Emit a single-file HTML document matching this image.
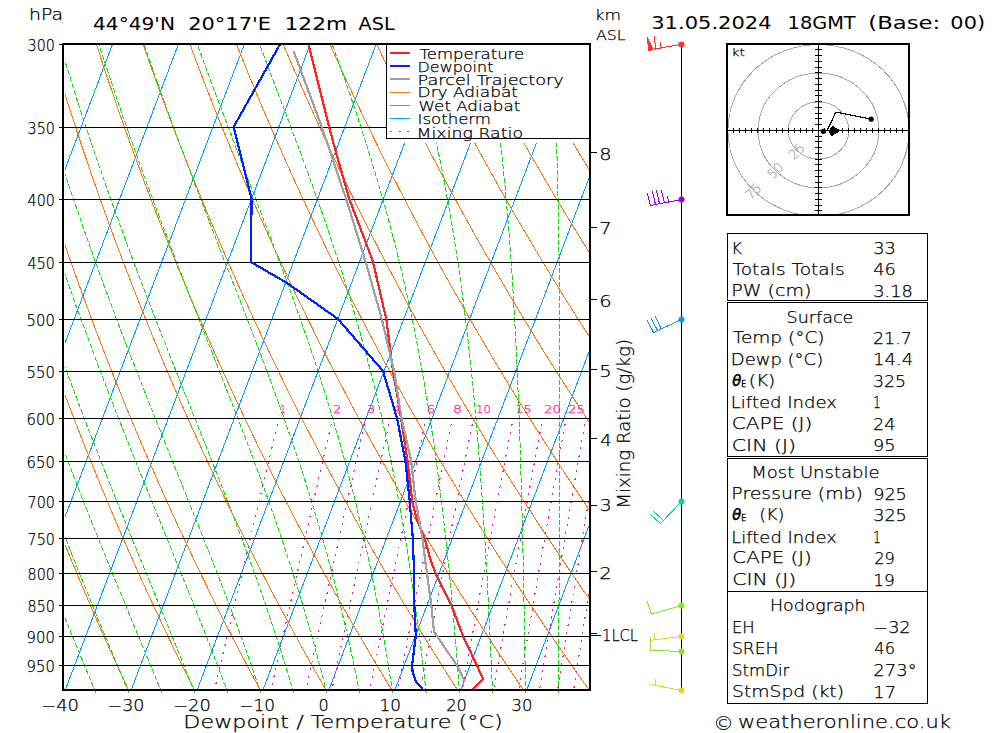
<!DOCTYPE html>
<html><head><meta charset="utf-8"><style>
html,body{margin:0;padding:0;background:#fff;}
body{width:1000px;height:733px;overflow:hidden;position:relative;}
svg{position:absolute;left:0;top:0;}
text{font-family:"DejaVu Sans","Liberation Sans",sans-serif;font-weight:200;fill:#000;stroke:#000;stroke-width:0.25px;}
.ax{font-size:15px;}
.tt{font-size:18px;font-weight:400;stroke-width:0;}
.xl{font-size:17px;}
.tb{font-size:15px;}
.cr{font-size:17px;}
.th{font-style:italic;font-weight:400;stroke-width:0.5px;}
.hl{font-size:13px;fill:#a8a8a8;stroke:#a8a8a8;}
.mr{font-size:11px;fill:#ff1493;stroke:#ff1493;}
.lg{font-size:14px;}
.kt{font-size:11px;}
</style></head><body>
<svg width="1000" height="733" viewBox="0 0 1000 733" shape-rendering="crispEdges">
<defs><clipPath id="cp"><rect x="65" y="45" width="524" height="644"/></clipPath><clipPath id="cpw"><rect x="65" y="45" width="524" height="649"/></clipPath><clipPath id="ch"><rect x="728" y="45" width="180" height="169"/></clipPath></defs>
<g clip-path="url(#cp)"><path d="M-593.61 689.5L-348.77 44M-527.7 689.5L-282.86 44M-461.79 689.5L-216.95 44M-395.88 689.5L-151.04 44M-329.97 689.5L-85.13 44M-264.06 689.5L-19.22 44M-198.15 689.5L46.69 44M-132.24 689.5L112.6 44M-66.33 689.5L178.51 44M-0.42 689.5L244.42 44M65.49 689.5L310.33 44M131.4 689.5L376.24 44M197.31 689.5L442.15 44M263.22 689.5L508.06 44M329.13 689.5L573.97 44M395.04 689.5L639.88 44M460.95 689.5L705.79 44M526.86 689.5L771.7 44M592.77 689.5L837.61 44" stroke="#0a9bff" stroke-width="1" fill="none"/></g>
<g clip-path="url(#cp)"><path d="M64.12 693.1 L61.77 687.68 L59.4 682.21 L57.03 676.67 L54.64 671.09 L52.24 665.44 L49.83 659.73 L47.4 653.97 L44.97 648.14 L42.52 642.24 L40.06 636.29 L37.59 630.26 L35.1 624.17 L32.61 618.01 L30.1 611.77 L27.57 605.47 L25.04 599.08 L22.49 592.63 L19.92 586.09 L17.35 579.47 L14.76 572.78 L12.15 565.99 L9.53 559.12 L6.9 552.17 L4.25 545.12 L1.59 537.97 L-1.09 530.74 L-3.78 523.4 L-6.49 515.96 L-9.21 508.42 L-11.95 500.77 L-14.71 493.01 L-17.48 485.14 L-20.27 477.15 L-23.07 469.04 L-25.9 460.81 L-28.74 452.45 L-31.59 443.96 L-34.47 435.33 L-37.36 426.56 L-40.27 417.65 L-43.2 408.59 L-46.15 399.37 L-49.12 389.99 L-52.11 380.45 L-55.11 370.73 L-58.14 360.84 L-61.18 350.76 L-64.25 340.49 L-67.34 330.02 L-70.45 319.34 L-73.58 308.45 L-76.73 297.33 L-79.9 285.97 L-83.09 274.38 L-86.31 262.53 L-89.55 250.41 L-92.81 238.01 L-96.09 225.32 L-99.4 212.33 L-102.73 199.02 L-106.08 185.36 L-109.46 171.36 L-112.86 156.98 L-116.28 142.2 L-119.72 127.01 L-123.19 111.38 L-126.68 95.28 L-130.2 78.69 L-133.73 61.57 L-137.28 43.89M130.03 693.1 L127.49 687.68 L124.93 682.21 L122.36 676.67 L119.78 671.09 L117.19 665.44 L114.58 659.73 L111.96 653.97 L109.32 648.14 L106.67 642.24 L104.01 636.29 L101.34 630.26 L98.65 624.17 L95.94 618.01 L93.22 611.77 L90.49 605.47 L87.74 599.08 L84.98 592.63 L82.2 586.09 L79.4 579.47 L76.59 572.78 L73.77 565.99 L70.92 559.12 L68.06 552.17 L65.19 545.12 L62.29 537.97 L59.38 530.74 L56.46 523.4 L53.51 515.96 L50.55 508.42 L47.57 500.77 L44.57 493.01 L41.55 485.14 L38.51 477.15 L35.45 469.04 L32.37 460.81 L29.28 452.45 L26.16 443.96 L23.02 435.33 L19.86 426.56 L16.68 417.65 L13.48 408.59 L10.25 399.37 L7 389.99 L3.73 380.45 L0.44 370.73 L-2.88 360.84 L-6.22 350.76 L-9.58 340.49 L-12.97 330.02 L-16.39 319.34 L-19.83 308.45 L-23.3 297.33 L-26.79 285.97 L-30.31 274.38 L-33.86 262.53 L-37.43 250.41 L-41.03 238.01 L-44.67 225.32 L-48.33 212.33 L-52.01 199.02 L-55.73 185.36 L-59.48 171.36 L-63.26 156.98 L-67.07 142.2 L-70.91 127.01 L-74.78 111.38 L-78.68 95.28 L-82.62 78.69 L-86.58 61.57 L-90.57 43.89M195.94 693.1 L193.21 687.68 L190.46 682.21 L187.7 676.67 L184.93 671.09 L182.14 665.44 L179.33 659.73 L176.51 653.97 L173.68 648.14 L170.83 642.24 L167.97 636.29 L165.09 630.26 L162.19 624.17 L159.28 618.01 L156.35 611.77 L153.41 605.47 L150.44 599.08 L147.47 592.63 L144.47 586.09 L141.46 579.47 L138.43 572.78 L135.38 565.99 L132.31 559.12 L129.23 552.17 L126.12 545.12 L123 537.97 L119.86 530.74 L116.69 523.4 L113.51 515.96 L110.31 508.42 L107.08 500.77 L103.84 493.01 L100.57 485.14 L97.29 477.15 L93.98 469.04 L90.64 460.81 L87.29 452.45 L83.91 443.96 L80.51 435.33 L77.08 426.56 L73.63 417.65 L70.15 408.59 L66.65 399.37 L63.12 389.99 L59.57 380.45 L55.99 370.73 L52.38 360.84 L48.75 350.76 L45.08 340.49 L41.39 330.02 L37.67 319.34 L33.92 308.45 L30.13 297.33 L26.32 285.97 L22.47 274.38 L18.6 262.53 L14.69 250.41 L10.74 238.01 L6.76 225.32 L2.75 212.33 L-1.3 199.02 L-5.38 185.36 L-9.5 171.36 L-13.66 156.98 L-17.86 142.2 L-22.09 127.01 L-26.37 111.38 L-30.68 95.28 L-35.04 78.69 L-39.43 61.57 L-43.86 43.89M261.85 693.1 L258.93 687.68 L255.99 682.21 L253.04 676.67 L250.07 671.09 L247.09 665.44 L244.09 659.73 L241.07 653.97 L238.04 648.14 L234.99 642.24 L231.92 636.29 L228.84 630.26 L225.73 624.17 L222.62 618.01 L219.48 611.77 L216.32 605.47 L213.15 599.08 L209.96 592.63 L206.74 586.09 L203.51 579.47 L200.26 572.78 L196.99 565.99 L193.7 559.12 L190.39 552.17 L187.06 545.12 L183.7 537.97 L180.33 530.74 L176.93 523.4 L173.51 515.96 L170.07 508.42 L166.6 500.77 L163.11 493.01 L159.6 485.14 L156.06 477.15 L152.5 469.04 L148.91 460.81 L145.3 452.45 L141.66 443.96 L137.99 435.33 L134.3 426.56 L130.58 417.65 L126.83 408.59 L123.05 399.37 L119.25 389.99 L115.41 380.45 L111.54 370.73 L107.64 360.84 L103.71 350.76 L99.75 340.49 L95.76 330.02 L91.73 319.34 L87.66 308.45 L83.56 297.33 L79.43 285.97 L75.26 274.38 L71.05 262.53 L66.8 250.41 L62.52 238.01 L58.19 225.32 L53.82 212.33 L49.42 199.02 L44.97 185.36 L40.47 171.36 L35.93 156.98 L31.35 142.2 L26.72 127.01 L22.04 111.38 L17.32 95.28 L12.54 78.69 L7.72 61.57 L2.85 43.89M327.76 693.1 L324.65 687.68 L321.52 682.21 L318.38 676.67 L315.22 671.09 L312.04 665.44 L308.84 659.73 L305.63 653.97 L302.39 648.14 L299.14 642.24 L295.87 636.29 L292.59 630.26 L289.28 624.17 L285.95 618.01 L282.61 611.77 L279.24 605.47 L275.85 599.08 L272.45 592.63 L269.02 586.09 L265.57 579.47 L262.1 572.78 L258.6 565.99 L255.09 559.12 L251.55 552.17 L247.99 545.12 L244.41 537.97 L240.8 530.74 L237.17 523.4 L233.51 515.96 L229.83 508.42 L226.12 500.77 L222.39 493.01 L218.63 485.14 L214.84 477.15 L211.03 469.04 L207.18 460.81 L203.31 452.45 L199.41 443.96 L195.48 435.33 L191.52 426.56 L187.53 417.65 L183.51 408.59 L179.46 399.37 L175.37 389.99 L171.25 380.45 L167.09 370.73 L162.9 360.84 L158.68 350.76 L154.42 340.49 L150.12 330.02 L145.78 319.34 L141.41 308.45 L136.99 297.33 L132.54 285.97 L128.04 274.38 L123.5 262.53 L118.92 250.41 L114.29 238.01 L109.62 225.32 L104.9 212.33 L100.13 199.02 L95.32 185.36 L90.45 171.36 L85.53 156.98 L80.56 142.2 L75.54 127.01 L70.46 111.38 L65.32 95.28 L60.12 78.69 L54.87 61.57 L49.56 43.89M393.67 693.1 L390.37 687.68 L387.05 682.21 L383.72 676.67 L380.36 671.09 L376.99 665.44 L373.59 659.73 L370.18 653.97 L366.75 648.14 L363.3 642.24 L359.83 636.29 L356.33 630.26 L352.82 624.17 L349.29 618.01 L345.73 611.77 L342.16 605.47 L338.56 599.08 L334.94 592.63 L331.29 586.09 L327.62 579.47 L323.93 572.78 L320.22 565.99 L316.48 559.12 L312.72 552.17 L308.93 545.12 L305.11 537.97 L301.27 530.74 L297.4 523.4 L293.51 515.96 L289.59 508.42 L285.64 500.77 L281.66 493.01 L277.65 485.14 L273.62 477.15 L269.55 469.04 L265.45 460.81 L261.32 452.45 L257.16 443.96 L252.97 435.33 L248.74 426.56 L244.48 417.65 L240.19 408.59 L235.86 399.37 L231.49 389.99 L227.09 380.45 L222.64 370.73 L218.16 360.84 L213.65 350.76 L209.09 340.49 L204.48 330.02 L199.84 319.34 L195.15 308.45 L190.42 297.33 L185.65 285.97 L180.83 274.38 L175.96 262.53 L171.04 250.41 L166.07 238.01 L161.05 225.32 L155.97 212.33 L150.85 199.02 L145.67 185.36 L140.43 171.36 L135.13 156.98 L129.77 142.2 L124.35 127.01 L118.87 111.38 L113.32 95.28 L107.7 78.69 L102.02 61.57 L96.27 43.89M459.58 693.1 L456.09 687.68 L452.59 682.21 L449.06 676.67 L445.51 671.09 L441.94 665.44 L438.35 659.73 L434.74 653.97 L431.11 648.14 L427.45 642.24 L423.78 636.29 L420.08 630.26 L416.37 624.17 L412.62 618.01 L408.86 611.77 L405.07 605.47 L401.26 599.08 L397.42 592.63 L393.56 586.09 L389.68 579.47 L385.77 572.78 L381.83 565.99 L377.87 559.12 L373.88 552.17 L369.86 545.12 L365.82 537.97 L361.74 530.74 L357.64 523.4 L353.51 515.96 L349.35 508.42 L345.16 500.77 L340.93 493.01 L336.68 485.14 L332.39 477.15 L328.08 469.04 L323.72 460.81 L319.34 452.45 L314.91 443.96 L310.46 435.33 L305.96 426.56 L301.43 417.65 L296.87 408.59 L292.26 399.37 L287.61 389.99 L282.92 380.45 L278.2 370.73 L273.43 360.84 L268.61 350.76 L263.75 340.49 L258.85 330.02 L253.9 319.34 L248.9 308.45 L243.85 297.33 L238.76 285.97 L233.61 274.38 L228.41 262.53 L223.15 250.41 L217.84 238.01 L212.48 225.32 L207.05 212.33 L201.56 199.02 L196.01 185.36 L190.4 171.36 L184.73 156.98 L178.98 142.2 L173.17 127.01 L167.28 111.38 L161.32 95.28 L155.28 78.69 L149.17 61.57 L142.98 43.89M525.49 693.1 L521.82 687.68 L518.12 682.21 L514.39 676.67 L510.65 671.09 L506.89 665.44 L503.1 659.73 L499.29 653.97 L495.46 648.14 L491.61 642.24 L487.73 636.29 L483.83 630.26 L479.91 624.17 L475.96 618.01 L471.99 611.77 L467.99 605.47 L463.96 599.08 L459.91 592.63 L455.84 586.09 L451.73 579.47 L447.6 572.78 L443.44 565.99 L439.26 559.12 L435.04 552.17 L430.8 545.12 L426.52 537.97 L422.21 530.74 L417.88 523.4 L413.51 515.96 L409.11 508.42 L404.68 500.77 L400.21 493.01 L395.71 485.14 L391.17 477.15 L386.6 469.04 L381.99 460.81 L377.35 452.45 L372.67 443.96 L367.95 435.33 L363.19 426.56 L358.39 417.65 L353.54 408.59 L348.66 399.37 L343.73 389.99 L338.76 380.45 L333.75 370.73 L328.69 360.84 L323.58 350.76 L318.42 340.49 L313.21 330.02 L307.96 319.34 L302.65 308.45 L297.28 297.33 L291.87 285.97 L286.39 274.38 L280.86 262.53 L275.27 250.41 L269.62 238.01 L263.9 225.32 L258.12 212.33 L252.28 199.02 L246.36 185.36 L240.38 171.36 L234.32 156.98 L228.19 142.2 L221.98 127.01 L215.69 111.38 L209.32 95.28 L202.86 78.69 L196.32 61.57 L189.69 43.89M591.4 693.1 L587.54 687.68 L583.65 682.21 L579.73 676.67 L575.8 671.09 L571.84 665.44 L567.86 659.73 L563.85 653.97 L559.82 648.14 L555.77 642.24 L551.69 636.29 L547.58 630.26 L543.45 624.17 L539.3 618.01 L535.11 611.77 L530.91 605.47 L526.67 599.08 L522.4 592.63 L518.11 586.09 L513.79 579.47 L509.44 572.78 L505.06 565.99 L500.65 559.12 L496.2 552.17 L491.73 545.12 L487.22 537.97 L482.69 530.74 L478.11 523.4 L473.51 515.96 L468.87 508.42 L464.19 500.77 L459.48 493.01 L454.73 485.14 L449.95 477.15 L445.13 469.04 L440.26 460.81 L435.36 452.45 L430.42 443.96 L425.43 435.33 L420.41 426.56 L415.34 417.65 L410.22 408.59 L405.06 399.37 L399.86 389.99 L394.6 380.45 L389.3 370.73 L383.95 360.84 L378.54 350.76 L373.09 340.49 L367.58 330.02 L362.01 319.34 L356.39 308.45 L350.71 297.33 L344.98 285.97 L339.18 274.38 L333.31 262.53 L327.39 250.41 L321.39 238.01 L315.33 225.32 L309.2 212.33 L302.99 199.02 L296.71 185.36 L290.36 171.36 L283.92 156.98 L277.4 142.2 L270.8 127.01 L264.1 111.38 L257.32 95.28 L250.44 78.69 L243.47 61.57 L236.4 43.89M657.31 693.1 L653.26 687.68 L649.18 682.21 L645.07 676.67 L640.94 671.09 L636.79 665.44 L632.61 659.73 L628.41 653.97 L624.18 648.14 L619.92 642.24 L615.64 636.29 L611.33 630.26 L607 624.17 L602.63 618.01 L598.24 611.77 L593.82 605.47 L589.37 599.08 L584.89 592.63 L580.38 586.09 L575.84 579.47 L571.27 572.78 L566.67 565.99 L562.03 559.12 L557.37 552.17 L552.66 545.12 L547.93 537.97 L543.16 530.74 L538.35 523.4 L533.51 515.96 L528.63 508.42 L523.71 500.77 L518.76 493.01 L513.76 485.14 L508.73 477.15 L503.65 469.04 L498.53 460.81 L493.37 452.45 L488.17 443.96 L482.92 435.33 L477.63 426.56 L472.29 417.65 L466.9 408.59 L461.46 399.37 L455.98 389.99 L450.44 380.45 L444.85 370.73 L439.21 360.84 L433.51 350.76 L427.75 340.49 L421.94 330.02 L416.07 319.34 L410.14 308.45 L404.14 297.33 L398.09 285.97 L391.96 274.38 L385.77 262.53 L379.5 250.41 L373.17 238.01 L366.76 225.32 L360.27 212.33 L353.71 199.02 L347.06 185.36 L340.33 171.36 L333.52 156.98 L326.61 142.2 L319.61 127.01 L312.52 111.38 L305.32 95.28 L298.02 78.69 L290.62 61.57 L283.1 43.89M723.22 693.1 L718.98 687.68 L714.71 682.21 L710.41 676.67 L706.09 671.09 L701.74 665.44 L697.36 659.73 L692.96 653.97 L688.53 648.14 L684.08 642.24 L679.59 636.29 L675.08 630.26 L670.54 624.17 L665.97 618.01 L661.37 611.77 L656.74 605.47 L652.08 599.08 L647.38 592.63 L642.66 586.09 L637.9 579.47 L633.11 572.78 L628.28 565.99 L623.42 559.12 L618.53 552.17 L613.6 545.12 L608.63 537.97 L603.63 530.74 L598.59 523.4 L593.51 515.96 L588.39 508.42 L583.23 500.77 L578.03 493.01 L572.79 485.14 L567.5 477.15 L562.18 469.04 L556.8 460.81 L551.38 452.45 L545.92 443.96 L540.41 435.33 L534.85 426.56 L529.24 417.65 L523.58 408.59 L517.86 399.37 L512.1 389.99 L506.28 380.45 L500.4 370.73 L494.47 360.84 L488.48 350.76 L482.42 340.49 L476.31 330.02 L470.13 319.34 L463.89 308.45 L457.57 297.33 L451.19 285.97 L444.74 274.38 L438.22 262.53 L431.62 250.41 L424.94 238.01 L418.19 225.32 L411.35 212.33 L404.42 199.02 L397.41 185.36 L390.31 171.36 L383.11 156.98 L375.82 142.2 L368.43 127.01 L360.93 111.38 L353.32 95.28 L345.6 78.69 L337.77 61.57 L329.81 43.89M789.13 693.1 L784.7 687.68 L780.24 682.21 L775.75 676.67 L771.23 671.09 L766.69 665.44 L762.12 659.73 L757.52 653.97 L752.89 648.14 L748.23 642.24 L743.55 636.29 L738.83 630.26 L734.08 624.17 L729.31 618.01 L724.5 611.77 L719.66 605.47 L714.78 599.08 L709.87 592.63 L704.93 586.09 L699.95 579.47 L694.94 572.78 L689.9 565.99 L684.81 559.12 L679.69 552.17 L674.53 545.12 L669.34 537.97 L664.1 530.74 L658.82 523.4 L653.51 515.96 L648.15 508.42 L642.75 500.77 L637.3 493.01 L631.81 485.14 L626.28 477.15 L620.7 469.04 L615.07 460.81 L609.4 452.45 L603.67 443.96 L597.9 435.33 L592.07 426.56 L586.19 417.65 L580.26 408.59 L574.27 399.37 L568.22 389.99 L562.12 380.45 L555.95 370.73 L549.73 360.84 L543.44 350.76 L537.09 340.49 L530.67 330.02 L524.19 319.34 L517.63 308.45 L511 297.33 L504.3 285.97 L497.53 274.38 L490.67 262.53 L483.74 250.41 L476.72 238.01 L469.62 225.32 L462.42 212.33 L455.14 199.02 L447.76 185.36 L440.29 171.36 L432.71 156.98 L425.03 142.2 L417.24 127.01 L409.34 111.38 L401.32 95.28 L393.18 78.69 L384.92 61.57 L376.52 43.89M855.04 693.1 L850.42 687.68 L845.77 682.21 L841.09 676.67 L836.38 671.09 L831.64 665.44 L826.87 659.73 L822.08 653.97 L817.25 648.14 L812.39 642.24 L807.5 636.29 L802.58 630.26 L797.63 624.17 L792.64 618.01 L787.62 611.77 L782.57 605.47 L777.48 599.08 L772.36 592.63 L767.2 586.09 L762.01 579.47 L756.78 572.78 L751.51 565.99 L746.2 559.12 L740.86 552.17 L735.47 545.12 L730.04 537.97 L724.57 530.74 L719.06 523.4 L713.51 515.96 L707.91 508.42 L702.27 500.77 L696.58 493.01 L690.84 485.14 L685.06 477.15 L679.22 469.04 L673.34 460.81 L667.41 452.45 L661.42 443.96 L655.38 435.33 L649.29 426.56 L643.14 417.65 L636.93 408.59 L630.67 399.37 L624.34 389.99 L617.96 380.45 L611.5 370.73 L604.99 360.84 L598.41 350.76 L591.76 340.49 L585.04 330.02 L578.24 319.34 L571.38 308.45 L564.43 297.33 L557.41 285.97 L550.31 274.38 L543.13 262.53 L535.85 250.41 L528.5 238.01 L521.04 225.32 L513.5 212.33 L505.86 199.02 L498.11 185.36 L490.26 171.36 L482.31 156.98 L474.24 142.2 L466.06 127.01 L457.75 111.38 L449.32 95.28 L440.76 78.69 L432.07 61.57 L423.23 43.89M920.95 693.1 L916.14 687.68 L911.3 682.21 L906.42 676.67 L901.52 671.09 L896.59 665.44 L891.63 659.73 L886.63 653.97 L881.61 648.14 L876.55 642.24 L871.46 636.29 L866.33 630.26 L861.17 624.17 L855.98 618.01 L850.75 611.77 L845.49 605.47 L840.19 599.08 L834.85 592.63 L829.48 586.09 L824.07 579.47 L818.61 572.78 L813.12 565.99 L807.59 559.12 L802.02 552.17 L796.4 545.12 L790.75 537.97 L785.04 530.74 L779.3 523.4 L773.51 515.96 L767.67 508.42 L761.78 500.77 L755.85 493.01 L749.87 485.14 L743.83 477.15 L737.75 469.04 L731.61 460.81 L725.42 452.45 L719.17 443.96 L712.87 435.33 L706.51 426.56 L700.09 417.65 L693.61 408.59 L687.07 399.37 L680.46 389.99 L673.79 380.45 L667.06 370.73 L660.25 360.84 L653.37 350.76 L646.42 340.49 L639.4 330.02 L632.3 319.34 L625.12 308.45 L617.86 297.33 L610.52 285.97 L603.1 274.38 L595.58 262.53 L587.97 250.41 L580.27 238.01 L572.47 225.32 L564.57 212.33 L556.57 199.02 L548.46 185.36 L540.24 171.36 L531.91 156.98 L523.45 142.2 L514.87 127.01 L506.17 111.38 L497.32 95.28 L488.34 78.69 L479.22 61.57 L469.94 43.89M986.86 693.1 L981.86 687.68 L976.83 682.21 L971.76 676.67 L966.67 671.09 L961.54 665.44 L956.38 659.73 L951.19 653.97 L945.96 648.14 L940.7 642.24 L935.41 636.29 L930.08 630.26 L924.72 624.17 L919.32 618.01 L913.88 611.77 L908.4 605.47 L902.89 599.08 L897.34 592.63 L891.75 586.09 L886.12 579.47 L880.45 572.78 L874.74 565.99 L868.98 559.12 L863.18 552.17 L857.34 545.12 L851.45 537.97 L845.52 530.74 L839.53 523.4 L833.51 515.96 L827.43 508.42 L821.3 500.77 L815.12 493.01 L808.89 485.14 L802.61 477.15 L796.27 469.04 L789.88 460.81 L783.43 452.45 L776.93 443.96 L770.36 435.33 L763.73 426.56 L757.04 417.65 L750.29 408.59 L743.47 399.37 L736.59 389.99 L729.63 380.45 L722.61 370.73 L715.51 360.84 L708.34 350.76 L701.09 340.49 L693.77 330.02 L686.36 319.34 L678.87 308.45 L671.3 297.33 L663.63 285.97 L655.88 274.38 L648.03 262.53 L640.09 250.41 L632.05 238.01 L623.9 225.32 L615.65 212.33 L607.29 199.02 L598.81 185.36 L590.22 171.36 L581.5 156.98 L572.66 142.2 L563.69 127.01 L554.58 111.38 L545.33 95.28 L535.92 78.69 L526.37 61.57 L516.65 43.89M1052.77 693.1 L1047.58 687.68 L1042.36 682.21 L1037.1 676.67 L1031.81 671.09 L1026.49 665.44 L1021.13 659.73 L1015.74 653.97 L1010.32 648.14 L1004.86 642.24 L999.36 636.29 L993.83 630.26 L988.26 624.17 L982.65 618.01 L977.01 611.77 L971.32 605.47 L965.6 599.08 L959.83 592.63 L954.02 586.09 L948.18 579.47 L942.28 572.78 L936.35 565.99 L930.37 559.12 L924.34 552.17 L918.27 545.12 L912.15 537.97 L905.99 530.74 L899.77 523.4 L893.51 515.96 L887.19 508.42 L880.82 500.77 L874.4 493.01 L867.92 485.14 L861.39 477.15 L854.8 469.04 L848.15 460.81 L841.45 452.45 L834.68 443.96 L827.85 435.33 L820.95 426.56 L813.99 417.65 L806.97 408.59 L799.87 399.37 L792.71 389.99 L785.47 380.45 L778.16 370.73 L770.77 360.84 L763.31 350.76 L755.76 340.49 L748.13 330.02 L740.42 319.34 L732.62 308.45 L724.73 297.33 L716.74 285.97 L708.66 274.38 L700.48 262.53 L692.21 250.41 L683.82 238.01 L675.33 225.32 L666.72 212.33 L658 199.02 L649.16 185.36 L640.2 171.36 L631.1 156.98 L621.87 142.2 L612.5 127.01 L602.99 111.38 L593.33 95.28 L583.5 78.69 L573.52 61.57 L563.36 43.89M1118.68 693.1 L1113.3 687.68 L1107.89 682.21 L1102.44 676.67 L1096.96 671.09 L1091.44 665.44 L1085.89 659.73 L1080.3 653.97 L1074.68 648.14 L1069.01 642.24 L1063.32 636.29 L1057.58 630.26 L1051.8 624.17 L1045.99 618.01 L1040.13 611.77 L1034.24 605.47 L1028.3 599.08 L1022.32 592.63 L1016.3 586.09 L1010.23 579.47 L1004.12 572.78 L997.96 565.99 L991.76 559.12 L985.51 552.17 L979.21 545.12 L972.86 537.97 L966.46 530.74 L960.01 523.4 L953.51 515.96 L946.95 508.42 L940.34 500.77 L933.67 493.01 L926.95 485.14 L920.17 477.15 L913.32 469.04 L906.42 460.81 L899.46 452.45 L892.43 443.96 L885.34 435.33 L878.17 426.56 L870.95 417.65 L863.65 408.59 L856.27 399.37 L848.83 389.99 L841.31 380.45 L833.71 370.73 L826.03 360.84 L818.27 350.76 L810.43 340.49 L802.5 330.02 L794.47 319.34 L786.36 308.45 L778.16 297.33 L769.85 285.97 L761.45 274.38 L752.94 262.53 L744.32 250.41 L735.6 238.01 L726.76 225.32 L717.8 212.33 L708.72 199.02 L699.51 185.36 L690.17 171.36 L680.7 156.98 L671.08 142.2 L661.32 127.01 L651.4 111.38 L641.33 95.28 L631.08 78.69 L620.67 61.57 L610.07 43.89M1184.59 693.1 L1179.02 687.68 L1173.42 682.21 L1167.78 676.67 L1162.1 671.09 L1156.39 665.44 L1150.64 659.73 L1144.86 653.97 L1139.03 648.14 L1133.17 642.24 L1127.27 636.29 L1121.33 630.26 L1115.35 624.17 L1109.33 618.01 L1103.26 611.77 L1097.15 605.47 L1091 599.08 L1084.81 592.63 L1078.57 586.09 L1072.29 579.47 L1065.95 572.78 L1059.57 565.99 L1053.15 559.12 L1046.67 552.17 L1040.14 545.12 L1033.56 537.97 L1026.93 530.74 L1020.25 523.4 L1013.51 515.96 L1006.71 508.42 L999.86 500.77 L992.95 493.01 L985.97 485.14 L978.94 477.15 L971.85 469.04 L964.69 460.81 L957.47 452.45 L950.18 443.96 L942.82 435.33 L935.4 426.56 L927.9 417.65 L920.32 408.59 L912.68 399.37 L904.95 389.99 L897.15 380.45 L889.26 370.73 L881.29 360.84 L873.24 350.76 L865.09 340.49 L856.86 330.02 L848.53 319.34 L840.11 308.45 L831.59 297.33 L822.96 285.97 L814.23 274.38 L805.39 262.53 L796.44 250.41 L787.37 238.01 L778.18 225.32 L768.87 212.33 L759.43 199.02 L749.86 185.36 L740.15 171.36 L730.29 156.98 L720.29 142.2 L710.13 127.01 L699.81 111.38 L689.33 95.28 L678.66 78.69 L667.82 61.57 L656.78 43.89M1250.5 693.1 L1244.74 687.68 L1238.95 682.21 L1233.12 676.67 L1227.25 671.09 L1221.34 665.44 L1215.4 659.73 L1209.41 653.97 L1203.39 648.14 L1197.33 642.24 L1191.22 636.29 L1185.08 630.26 L1178.89 624.17 L1172.66 618.01 L1166.39 611.77 L1160.07 605.47 L1153.71 599.08 L1147.3 592.63 L1140.84 586.09 L1134.34 579.47 L1127.79 572.78 L1121.19 565.99 L1114.54 559.12 L1107.83 552.17 L1101.08 545.12 L1094.27 537.97 L1087.4 530.74 L1080.48 523.4 L1073.5 515.96 L1066.47 508.42 L1059.37 500.77 L1052.22 493.01 L1045 485.14 L1037.72 477.15 L1030.37 469.04 L1022.96 460.81 L1015.48 452.45 L1007.93 443.96 L1000.31 435.33 L992.62 426.56 L984.85 417.65 L977 408.59 L969.08 399.37 L961.07 389.99 L952.99 380.45 L944.81 370.73 L936.55 360.84 L928.2 350.76 L919.76 340.49 L911.22 330.02 L902.59 319.34 L893.85 308.45 L885.02 297.33 L876.07 285.97 L867.01 274.38 L857.84 262.53 L848.56 250.41 L839.15 238.01 L829.61 225.32 L819.95 212.33 L810.15 199.02 L800.21 185.36 L790.13 171.36 L779.89 156.98 L769.5 142.2 L758.95 127.01 L748.23 111.38 L737.33 95.28 L726.24 78.69 L714.97 61.57 L703.49 43.89M1316.41 693.1 L1310.47 687.68 L1304.48 682.21 L1298.45 676.67 L1292.39 671.09 L1286.29 665.44 L1280.15 659.73 L1273.97 653.97 L1267.75 648.14 L1261.48 642.24 L1255.18 636.29 L1248.83 630.26 L1242.44 624.17 L1236 618.01 L1229.52 611.77 L1222.99 605.47 L1216.41 599.08 L1209.79 592.63 L1203.12 586.09 L1196.4 579.47 L1189.62 572.78 L1182.8 565.99 L1175.92 559.12 L1168.99 552.17 L1162.01 545.12 L1154.97 537.97 L1147.87 530.74 L1140.72 523.4 L1133.5 515.96 L1126.23 508.42 L1118.89 500.77 L1111.49 493.01 L1104.03 485.14 L1096.5 477.15 L1088.9 469.04 L1081.23 460.81 L1073.49 452.45 L1065.68 443.96 L1057.8 435.33 L1049.84 426.56 L1041.8 417.65 L1033.68 408.59 L1025.48 399.37 L1017.2 389.99 L1008.82 380.45 L1000.36 370.73 L991.81 360.84 L983.17 350.76 L974.43 340.49 L965.59 330.02 L956.65 319.34 L947.6 308.45 L938.45 297.33 L929.18 285.97 L919.8 274.38 L910.3 262.53 L900.67 250.41 L890.92 238.01 L881.04 225.32 L871.02 212.33 L860.86 199.02 L850.56 185.36 L840.1 171.36 L829.49 156.98 L818.71 142.2 L807.76 127.01 L796.64 111.38 L785.33 95.28 L773.82 78.69 L762.12 61.57 L750.2 43.89" stroke="#f57a18" stroke-width="1" fill="none"/></g>
<g clip-path="url(#cpw)"><path d="M63.12 693.1 L60.86 687.68 L58.6 682.21 L56.33 676.67 L54.04 671.09 L51.73 665.44 L49.4 659.73 L47.06 653.97 L44.7 648.14 L42.33 642.24 L39.94 636.29 L37.53 630.26 L35.11 624.17 L32.67 618.01 L30.22 611.77 L27.75 605.47 L25.26 599.08 L22.75 592.63 L20.23 586.09 L17.7 579.47 L15.14 572.78 L12.57 565.99 L9.98 559.12 L7.38 552.17 L4.76 545.12 L2.12 537.97 L-0.54 530.74 L-3.21 523.4 L-5.9 515.96 L-8.6 508.42 L-11.33 500.77 L-14.07 493.01 L-16.83 485.14 L-19.61 477.15 L-22.4 469.04 L-25.22 460.81 L-28.05 452.45 L-30.9 443.96 L-33.77 435.33 L-36.66 426.56 L-39.57 417.65 L-42.49 408.59 L-45.44 399.37 L-48.4 389.99 L-51.38 380.45 L-54.39 370.73 L-57.41 360.84 L-60.46 350.76 L-63.52 340.49 L-66.61 330.02 L-69.71 319.34 L-72.84 308.45 L-75.99 297.33 L-79.15 285.97 L-82.35 274.38 L-85.56 262.53 L-88.79 250.41 L-92.05 238.01 L-95.33 225.32 L-98.63 212.33 L-101.95 199.02 L-105.29 185.36 L-108.66 171.36 L-112.05 156.98 L-115.46 142.2 L-118.89 127.01 L-122.35 111.38 L-125.82 95.28 L-129.32 78.69 L-132.83 61.57 L-136.36 43.89M96.08 693.1 L93.79 687.68 L91.5 682.21 L89.19 676.67 L86.86 671.09 L84.51 665.44 L82.14 659.73 L79.76 653.97 L77.35 648.14 L74.93 642.24 L72.48 636.29 L70.02 630.26 L67.53 624.17 L65.03 618.01 L62.51 611.77 L59.97 605.47 L57.41 599.08 L54.83 592.63 L52.23 586.09 L49.61 579.47 L46.97 572.78 L44.32 565.99 L41.64 559.12 L38.94 552.17 L36.23 545.12 L33.49 537.97 L30.74 530.74 L27.96 523.4 L25.17 515.96 L22.35 508.42 L19.52 500.77 L16.66 493.01 L13.79 485.14 L10.9 477.15 L7.98 469.04 L5.04 460.81 L2.09 452.45 L-0.89 443.96 L-3.89 435.33 L-6.91 426.56 L-9.95 417.65 L-13.01 408.59 L-16.09 399.37 L-19.2 389.99 L-22.32 380.45 L-25.47 370.73 L-28.65 360.84 L-31.84 350.76 L-35.06 340.49 L-38.3 330.02 L-41.56 319.34 L-44.85 308.45 L-48.16 297.33 L-51.5 285.97 L-54.86 274.38 L-58.24 262.53 L-61.65 250.41 L-65.08 238.01 L-68.54 225.32 L-72.03 212.33 L-75.54 199.02 L-79.07 185.36 L-82.64 171.36 L-86.22 156.98 L-89.84 142.2 L-93.48 127.01 L-97.14 111.38 L-100.83 95.28 L-104.55 78.69 L-108.29 61.57 L-112.05 43.89M129.03 693.1 L126.75 687.68 L124.46 682.21 L122.14 676.67 L119.8 671.09 L117.44 665.44 L115.06 659.73 L112.65 653.97 L110.22 648.14 L107.77 642.24 L105.3 636.29 L102.8 630.26 L100.28 624.17 L97.73 618.01 L95.16 611.77 L92.57 605.47 L89.96 599.08 L87.32 592.63 L84.66 586.09 L81.98 579.47 L79.28 572.78 L76.55 565.99 L73.8 559.12 L71.02 552.17 L68.23 545.12 L65.41 537.97 L62.56 530.74 L59.7 523.4 L56.81 515.96 L53.9 508.42 L50.96 500.77 L48 493.01 L45.02 485.14 L42.01 477.15 L38.99 469.04 L35.93 460.81 L32.86 452.45 L29.76 443.96 L26.63 435.33 L23.49 426.56 L20.32 417.65 L17.12 408.59 L13.9 399.37 L10.65 389.99 L7.38 380.45 L4.09 370.73 L0.77 360.84 L-2.58 350.76 L-5.95 340.49 L-9.35 330.02 L-12.77 319.34 L-16.22 308.45 L-19.7 297.33 L-23.2 285.97 L-26.73 274.38 L-30.29 262.53 L-33.88 250.41 L-37.49 238.01 L-41.14 225.32 L-44.81 212.33 L-48.51 199.02 L-52.24 185.36 L-56 171.36 L-59.79 156.98 L-63.61 142.2 L-67.46 127.01 L-71.34 111.38 L-75.26 95.28 L-79.2 78.69 L-83.17 61.57 L-87.17 43.89M161.99 693.1 L159.75 687.68 L157.49 682.21 L155.21 676.67 L152.9 671.09 L150.56 665.44 L148.2 659.73 L145.81 653.97 L143.39 648.14 L140.95 642.24 L138.47 636.29 L135.97 630.26 L133.45 624.17 L130.89 618.01 L128.31 611.77 L125.7 605.47 L123.06 599.08 L120.39 592.63 L117.7 586.09 L114.98 579.47 L112.23 572.78 L109.46 565.99 L106.65 559.12 L103.82 552.17 L100.96 545.12 L98.08 537.97 L95.17 530.74 L92.23 523.4 L89.26 515.96 L86.26 508.42 L83.24 500.77 L80.19 493.01 L77.12 485.14 L74.01 477.15 L70.88 469.04 L67.72 460.81 L64.53 452.45 L61.32 443.96 L58.08 435.33 L54.81 426.56 L51.51 417.65 L48.19 408.59 L44.83 399.37 L41.45 389.99 L38.04 380.45 L34.6 370.73 L31.13 360.84 L27.64 350.76 L24.11 340.49 L20.56 330.02 L16.97 319.34 L13.36 308.45 L9.71 297.33 L6.04 285.97 L2.33 274.38 L-1.41 262.53 L-5.18 250.41 L-8.98 238.01 L-12.81 225.32 L-16.68 212.33 L-20.57 199.02 L-24.51 185.36 L-28.47 171.36 L-32.47 156.98 L-36.51 142.2 L-40.57 127.01 L-44.68 111.38 L-48.82 95.28 L-52.99 78.69 L-57.2 61.57 L-61.44 43.89M194.94 693.1 L192.79 687.68 L190.61 682.21 L188.41 676.67 L186.18 671.09 L183.91 665.44 L181.61 659.73 L179.28 653.97 L176.92 648.14 L174.53 642.24 L172.1 636.29 L169.65 630.26 L167.15 624.17 L164.63 618.01 L162.07 611.77 L159.49 605.47 L156.86 599.08 L154.21 592.63 L151.52 586.09 L148.8 579.47 L146.04 572.78 L143.26 565.99 L140.44 559.12 L137.58 552.17 L134.69 545.12 L131.77 537.97 L128.82 530.74 L125.83 523.4 L122.82 515.96 L119.76 508.42 L116.68 500.77 L113.56 493.01 L110.41 485.14 L107.22 477.15 L104.01 469.04 L100.76 460.81 L97.48 452.45 L94.16 443.96 L90.81 435.33 L87.43 426.56 L84.02 417.65 L80.57 408.59 L77.09 399.37 L73.58 389.99 L70.04 380.45 L66.46 370.73 L62.85 360.84 L59.2 350.76 L55.52 340.49 L51.81 330.02 L48.07 319.34 L44.29 308.45 L40.47 297.33 L36.62 285.97 L32.74 274.38 L28.82 262.53 L24.86 250.41 L20.87 238.01 L16.84 225.32 L12.78 212.33 L8.67 199.02 L4.53 185.36 L0.36 171.36 L-3.86 156.98 L-8.12 142.2 L-12.41 127.01 L-16.75 111.38 L-21.13 95.28 L-25.54 78.69 L-30 61.57 L-34.5 43.89M227.9 693.1 L225.88 687.68 L223.84 682.21 L221.76 676.67 L219.66 671.09 L217.51 665.44 L215.33 659.73 L213.12 653.97 L210.87 648.14 L208.58 642.24 L206.26 636.29 L203.9 630.26 L201.5 624.17 L199.06 618.01 L196.59 611.77 L194.07 605.47 L191.52 599.08 L188.93 592.63 L186.3 586.09 L183.63 579.47 L180.92 572.78 L178.17 565.99 L175.38 559.12 L172.55 552.17 L169.68 545.12 L166.78 537.97 L163.83 530.74 L160.84 523.4 L157.81 515.96 L154.74 508.42 L151.63 500.77 L148.47 493.01 L145.28 485.14 L142.05 477.15 L138.78 469.04 L135.47 460.81 L132.12 452.45 L128.73 443.96 L125.3 435.33 L121.83 426.56 L118.32 417.65 L114.77 408.59 L111.18 399.37 L107.56 389.99 L103.89 380.45 L100.18 370.73 L96.44 360.84 L92.65 350.76 L88.83 340.49 L84.96 330.02 L81.06 319.34 L77.11 308.45 L73.13 297.33 L69.1 285.97 L65.04 274.38 L60.93 262.53 L56.79 250.41 L52.6 238.01 L48.37 225.32 L44.09 212.33 L39.78 199.02 L35.42 185.36 L31.02 171.36 L26.57 156.98 L22.08 142.2 L17.55 127.01 L12.97 111.38 L8.34 95.28 L3.67 78.69 L-1.06 61.57 L-5.83 43.89M260.85 693.1 L259.02 687.68 L257.16 682.21 L255.27 676.67 L253.34 671.09 L251.37 665.44 L249.37 659.73 L247.33 653.97 L245.25 648.14 L243.13 642.24 L240.97 636.29 L238.77 630.26 L236.53 624.17 L234.24 618.01 L231.91 611.77 L229.54 605.47 L227.13 599.08 L224.67 592.63 L222.17 586.09 L219.62 579.47 L217.02 572.78 L214.38 565.99 L211.69 559.12 L208.95 552.17 L206.17 545.12 L203.34 537.97 L200.46 530.74 L197.53 523.4 L194.55 515.96 L191.53 508.42 L188.45 500.77 L185.33 493.01 L182.15 485.14 L178.93 477.15 L175.66 469.04 L172.34 460.81 L168.96 452.45 L165.54 443.96 L162.07 435.33 L158.56 426.56 L154.99 417.65 L151.37 408.59 L147.71 399.37 L143.99 389.99 L140.23 380.45 L136.42 370.73 L132.56 360.84 L128.65 350.76 L124.69 340.49 L120.69 330.02 L116.64 319.34 L112.54 308.45 L108.39 297.33 L104.2 285.97 L99.95 274.38 L95.66 262.53 L91.32 250.41 L86.93 238.01 L82.49 225.32 L78.01 212.33 L73.47 199.02 L68.88 185.36 L64.25 171.36 L59.56 156.98 L54.82 142.2 L50.03 127.01 L45.19 111.38 L40.29 95.28 L35.34 78.69 L30.33 61.57 L25.27 43.89M293.81 693.1 L292.2 687.68 L290.57 682.21 L288.9 676.67 L287.2 671.09 L285.46 665.44 L283.69 659.73 L281.87 653.97 L280.02 648.14 L278.13 642.24 L276.19 636.29 L274.22 630.26 L272.2 624.17 L270.14 618.01 L268.03 611.77 L265.87 605.47 L263.67 599.08 L261.42 592.63 L259.13 586.09 L256.78 579.47 L254.38 572.78 L251.93 565.99 L249.43 559.12 L246.87 552.17 L244.26 545.12 L241.6 537.97 L238.87 530.74 L236.1 523.4 L233.26 515.96 L230.37 508.42 L227.42 500.77 L224.41 493.01 L221.34 485.14 L218.21 477.15 L215.02 469.04 L211.77 460.81 L208.46 452.45 L205.08 443.96 L201.65 435.33 L198.15 426.56 L194.59 417.65 L190.98 408.59 L187.29 399.37 L183.55 389.99 L179.75 380.45 L175.88 370.73 L171.96 360.84 L167.97 350.76 L163.92 340.49 L159.82 330.02 L155.65 319.34 L151.42 308.45 L147.13 297.33 L142.78 285.97 L138.38 274.38 L133.91 262.53 L129.39 250.41 L124.8 238.01 L120.16 225.32 L115.45 212.33 L110.69 199.02 L105.87 185.36 L100.99 171.36 L96.05 156.98 L91.04 142.2 L85.98 127.01 L80.85 111.38 L75.67 95.28 L70.41 78.69 L65.1 61.57 L59.72 43.89M326.76 693.1 L325.4 687.68 L324.03 682.21 L322.62 676.67 L321.18 671.09 L319.71 665.44 L318.2 659.73 L316.66 653.97 L315.08 648.14 L313.46 642.24 L311.81 636.29 L310.11 630.26 L308.37 624.17 L306.59 618.01 L304.77 611.77 L302.9 605.47 L300.99 599.08 L299.02 592.63 L297.01 586.09 L294.95 579.47 L292.84 572.78 L290.67 565.99 L288.45 559.12 L286.17 552.17 L283.83 545.12 L281.44 537.97 L278.99 530.74 L276.47 523.4 L273.89 515.96 L271.25 508.42 L268.54 500.77 L265.76 493.01 L262.92 485.14 L260 477.15 L257.02 469.04 L253.96 460.81 L250.83 452.45 L247.63 443.96 L244.35 435.33 L240.99 426.56 L237.56 417.65 L234.05 408.59 L230.47 399.37 L226.81 389.99 L223.07 380.45 L219.25 370.73 L215.35 360.84 L211.37 350.76 L207.32 340.49 L203.19 330.02 L198.97 319.34 L194.69 308.45 L190.32 297.33 L185.87 285.97 L181.35 274.38 L176.75 262.53 L172.08 250.41 L167.33 238.01 L162.5 225.32 L157.6 212.33 L152.62 199.02 L147.57 185.36 L142.44 171.36 L137.24 156.98 L131.97 142.2 L126.62 127.01 L121.19 111.38 L115.69 95.28 L110.12 78.69 L104.47 61.57 L98.74 43.89M359.72 693.1 L358.62 687.68 L357.52 682.21 L356.38 676.67 L355.22 671.09 L354.03 665.44 L352.81 659.73 L351.56 653.97 L350.28 648.14 L348.97 642.24 L347.62 636.29 L346.24 630.26 L344.83 624.17 L343.37 618.01 L341.88 611.77 L340.34 605.47 L338.77 599.08 L337.15 592.63 L335.48 586.09 L333.77 579.47 L332.01 572.78 L330.21 565.99 L328.35 559.12 L326.43 552.17 L324.47 545.12 L322.44 537.97 L320.36 530.74 L318.21 523.4 L316.01 515.96 L313.73 508.42 L311.39 500.77 L308.98 493.01 L306.5 485.14 L303.95 477.15 L301.32 469.04 L298.61 460.81 L295.82 452.45 L292.95 443.96 L290 435.33 L286.96 426.56 L283.83 417.65 L280.61 408.59 L277.29 399.37 L273.89 389.99 L270.38 380.45 L266.78 370.73 L263.09 360.84 L259.29 350.76 L255.39 340.49 L251.39 330.02 L247.29 319.34 L243.08 308.45 L238.77 297.33 L234.36 285.97 L229.84 274.38 L225.22 262.53 L220.5 250.41 L215.68 238.01 L210.75 225.32 L205.72 212.33 L200.59 199.02 L195.37 185.36 L190.04 171.36 L184.61 156.98 L179.08 142.2 L173.46 127.01 L167.74 111.38 L161.92 95.28 L156.01 78.69 L150 61.57 L143.89 43.89M392.67 693.1 L391.83 687.68 L390.99 682.21 L390.13 676.67 L389.24 671.09 L388.34 665.44 L387.4 659.73 L386.45 653.97 L385.47 648.14 L384.47 642.24 L383.44 636.29 L382.38 630.26 L381.29 624.17 L380.17 618.01 L379.02 611.77 L377.84 605.47 L376.62 599.08 L375.37 592.63 L374.08 586.09 L372.76 579.47 L371.39 572.78 L369.98 565.99 L368.53 559.12 L367.04 552.17 L365.5 545.12 L363.9 537.97 L362.26 530.74 L360.57 523.4 L358.81 515.96 L357.01 508.42 L355.14 500.77 L353.2 493.01 L351.2 485.14 L349.14 477.15 L347 469.04 L344.79 460.81 L342.5 452.45 L340.13 443.96 L337.67 435.33 L335.13 426.56 L332.5 417.65 L329.78 408.59 L326.95 399.37 L324.03 389.99 L321 380.45 L317.86 370.73 L314.61 360.84 L311.25 350.76 L307.76 340.49 L304.16 330.02 L300.43 319.34 L296.57 308.45 L292.58 297.33 L288.46 285.97 L284.2 274.38 L279.81 262.53 L275.27 250.41 L270.6 238.01 L265.79 225.32 L260.83 212.33 L255.73 199.02 L250.49 185.36 L245.11 171.36 L239.59 156.98 L233.93 142.2 L228.14 127.01 L222.2 111.38 L216.13 95.28 L209.93 78.69 L203.59 61.57 L197.12 43.89M426.13 693.1 L425.52 687.68 L424.91 682.21 L424.29 676.67 L423.64 671.09 L422.99 665.44 L422.31 659.73 L421.62 653.97 L420.91 648.14 L420.18 642.24 L419.43 636.29 L418.66 630.26 L417.88 624.17 L417.06 618.01 L416.23 611.77 L415.37 605.47 L414.49 599.08 L413.58 592.63 L412.64 586.09 L411.68 579.47 L410.69 572.78 L409.66 565.99 L408.6 559.12 L407.51 552.17 L406.38 545.12 L405.22 537.97 L404.02 530.74 L402.77 523.4 L401.48 515.96 L400.15 508.42 L398.77 500.77 L397.34 493.01 L395.86 485.14 L394.32 477.15 L392.73 469.04 L391.07 460.81 L389.35 452.45 L387.56 443.96 L385.71 435.33 L383.77 426.56 L381.76 417.65 L379.67 408.59 L377.49 399.37 L375.22 389.99 L372.85 380.45 L370.38 370.73 L367.81 360.84 L365.12 350.76 L362.31 340.49 L359.39 330.02 L356.33 319.34 L353.13 308.45 L349.8 297.33 L346.32 285.97 L342.68 274.38 L338.88 262.53 L334.91 250.41 L330.78 238.01 L326.46 225.32 L321.96 212.33 L317.27 199.02 L312.39 185.36 L307.31 171.36 L302.03 156.98 L296.55 142.2 L290.86 127.01 L284.97 111.38 L278.87 95.28 L272.57 78.69 L266.06 61.57 L259.36 43.89M459.58 693.1 L459.18 687.68 L458.77 682.21 L458.36 676.67 L457.93 671.09 L457.49 665.44 L457.04 659.73 L456.57 653.97 L456.1 648.14 L455.61 642.24 L455.12 636.29 L454.61 630.26 L454.08 624.17 L453.54 618.01 L452.98 611.77 L452.41 605.47 L451.83 599.08 L451.22 592.63 L450.6 586.09 L449.96 579.47 L449.3 572.78 L448.62 565.99 L447.91 559.12 L447.19 552.17 L446.44 545.12 L445.66 537.97 L444.86 530.74 L444.03 523.4 L443.17 515.96 L442.28 508.42 L441.36 500.77 L440.41 493.01 L439.41 485.14 L438.38 477.15 L437.31 469.04 L436.2 460.81 L435.04 452.45 L433.84 443.96 L432.58 435.33 L431.27 426.56 L429.91 417.65 L428.48 408.59 L426.99 399.37 L425.43 389.99 L423.8 380.45 L422.09 370.73 L420.31 360.84 L418.43 350.76 L416.46 340.49 L414.39 330.02 L412.22 319.34 L409.93 308.45 L407.52 297.33 L404.99 285.97 L402.31 274.38 L399.49 262.53 L396.52 250.41 L393.37 238.01 L390.05 225.32 L386.55 212.33 L382.84 199.02 L378.92 185.36 L374.77 171.36 L370.39 156.98 L365.76 142.2 L360.86 127.01 L355.7 111.38 L350.25 95.28 L344.51 78.69 L338.46 61.57 L332.11 43.89M492.54 693.1 L492.32 687.68 L492.09 682.21 L491.85 676.67 L491.61 671.09 L491.37 665.44 L491.12 659.73 L490.86 653.97 L490.6 648.14 L490.33 642.24 L490.05 636.29 L489.77 630.26 L489.47 624.17 L489.17 618.01 L488.86 611.77 L488.55 605.47 L488.22 599.08 L487.88 592.63 L487.54 586.09 L487.18 579.47 L486.81 572.78 L486.43 565.99 L486.04 559.12 L485.63 552.17 L485.21 545.12 L484.78 537.97 L484.33 530.74 L483.87 523.4 L483.38 515.96 L482.88 508.42 L482.36 500.77 L481.83 493.01 L481.27 485.14 L480.68 477.15 L480.08 469.04 L479.45 460.81 L478.79 452.45 L478.1 443.96 L477.39 435.33 L476.64 426.56 L475.86 417.65 L475.04 408.59 L474.18 399.37 L473.28 389.99 L472.34 380.45 L471.35 370.73 L470.3 360.84 L469.21 350.76 L468.05 340.49 L466.83 330.02 L465.54 319.34 L464.18 308.45 L462.74 297.33 L461.22 285.97 L459.6 274.38 L457.88 262.53 L456.06 250.41 L454.11 238.01 L452.04 225.32 L449.83 212.33 L447.46 199.02 L444.94 185.36 L442.23 171.36 L439.33 156.98 L436.21 142.2 L432.86 127.01 L429.26 111.38 L425.38 95.28 L421.2 78.69 L416.7 61.57 L411.84 43.89M525.49 693.1 L525.41 687.68 L525.33 682.21 L525.25 676.67 L525.16 671.09 L525.08 665.44 L524.99 659.73 L524.89 653.97 L524.8 648.14 L524.7 642.24 L524.6 636.29 L524.5 630.26 L524.4 624.17 L524.29 618.01 L524.17 611.77 L524.06 605.47 L523.94 599.08 L523.82 592.63 L523.69 586.09 L523.56 579.47 L523.42 572.78 L523.28 565.99 L523.14 559.12 L522.98 552.17 L522.83 545.12 L522.66 537.97 L522.49 530.74 L522.31 523.4 L522.13 515.96 L521.94 508.42 L521.73 500.77 L521.52 493.01 L521.3 485.14 L521.07 477.15 L520.83 469.04 L520.58 460.81 L520.31 452.45 L520.04 443.96 L519.74 435.33 L519.43 426.56 L519.11 417.65 L518.77 408.59 L518.41 399.37 L518.03 389.99 L517.62 380.45 L517.2 370.73 L516.75 360.84 L516.27 350.76 L515.76 340.49 L515.22 330.02 L514.64 319.34 L514.03 308.45 L513.38 297.33 L512.68 285.97 L511.94 274.38 L511.14 262.53 L510.28 250.41 L509.36 238.01 L508.38 225.32 L507.31 212.33 L506.16 199.02 L504.92 185.36 L503.58 171.36 L502.13 156.98 L500.54 142.2 L498.82 127.01 L496.95 111.38 L494.9 95.28 L492.65 78.69 L490.19 61.57 L487.48 43.89M558.45 693.1 L558.48 687.68 L558.51 682.21 L558.55 676.67 L558.58 671.09 L558.62 665.44 L558.65 659.73 L558.69 653.97 L558.72 648.14 L558.76 642.24 L558.8 636.29 L558.84 630.26 L558.87 624.17 L558.91 618.01 L558.95 611.77 L558.99 605.47 L559.03 599.08 L559.07 592.63 L559.11 586.09 L559.15 579.47 L559.2 572.78 L559.24 565.99 L559.28 559.12 L559.32 552.17 L559.36 545.12 L559.4 537.97 L559.44 530.74 L559.48 523.4 L559.51 515.96 L559.55 508.42 L559.59 500.77 L559.62 493.01 L559.66 485.14 L559.69 477.15 L559.72 469.04 L559.74 460.81 L559.77 452.45 L559.79 443.96 L559.81 435.33 L559.83 426.56 L559.84 417.65 L559.85 408.59 L559.85 399.37 L559.85 389.99 L559.84 380.45 L559.82 370.73 L559.8 360.84 L559.77 350.76 L559.73 340.49 L559.68 330.02 L559.62 319.34 L559.55 308.45 L559.46 297.33 L559.36 285.97 L559.24 274.38 L559.11 262.53 L558.95 250.41 L558.77 238.01 L558.56 225.32 L558.33 212.33 L558.06 199.02 L557.76 185.36 L557.41 171.36 L557.02 156.98 L556.58 142.2 L556.08 127.01 L555.52 111.38 L554.88 95.28 L554.15 78.69 L553.33 61.57 L552.4 43.89M591.4 693.1 L591.52 687.68 L591.64 682.21 L591.76 676.67 L591.88 671.09 L592.01 665.44 L592.14 659.73 L592.27 653.97 L592.4 648.14 L592.54 642.24 L592.68 636.29 L592.82 630.26 L592.96 624.17 L593.11 618.01 L593.26 611.77 L593.42 605.47 L593.58 599.08 L593.74 592.63 L593.9 586.09 L594.07 579.47 L594.24 572.78 L594.41 565.99 L594.59 559.12 L594.77 552.17 L594.95 545.12 L595.14 537.97 L595.33 530.74 L595.53 523.4 L595.73 515.96 L595.93 508.42 L596.14 500.77 L596.35 493.01 L596.56 485.14 L596.78 477.15 L597.01 469.04 L597.23 460.81 L597.47 452.45 L597.7 443.96 L597.94 435.33 L598.19 426.56 L598.43 417.65 L598.69 408.59 L598.95 399.37 L599.21 389.99 L599.47 380.45 L599.74 370.73 L600.02 360.84 L600.3 350.76 L600.58 340.49 L600.87 330.02 L601.16 319.34 L601.46 308.45 L601.76 297.33 L602.06 285.97 L602.36 274.38 L602.67 262.53 L602.98 250.41 L603.29 238.01 L603.61 225.32 L603.92 212.33 L604.23 199.02 L604.54 185.36 L604.85 171.36 L605.16 156.98 L605.46 142.2 L605.75 127.01 L606.04 111.38 L606.31 95.28 L606.56 78.69 L606.8 61.57 L607.01 43.89" stroke="#11dd11" stroke-width="1" fill="none" stroke-dasharray="5 2"/></g>
<g clip-path="url(#cp)"><path d="M277.6 424.35 L268.83 460.81 L259.26 500.77 L250.38 537.97 L242.12 572.78 L234.38 605.47 L227.12 636.29 L220.27 665.44 L213.79 693.1M331.18 424.35 L322.79 460.81 L313.64 500.77 L305.16 537.97 L297.27 572.78 L289.89 605.47 L282.96 636.29 L276.44 665.44 L270.27 693.1M364.39 424.35 L356.24 460.81 L347.36 500.77 L339.14 537.97 L331.49 572.78 L324.33 605.47 L317.62 636.29 L311.31 665.44 L305.34 693.1M388.86 424.35 L380.89 460.81 L372.21 500.77 L364.18 537.97 L356.71 572.78 L349.73 605.47 L343.18 636.29 L337.02 665.44 L331.2 693.1M424.69 424.35 L416.99 460.81 L408.62 500.77 L400.87 537.97 L393.67 572.78 L386.94 605.47 L380.64 636.29 L374.71 665.44 L369.11 693.1M451.12 424.35 L443.63 460.81 L435.48 500.77 L427.95 537.97 L420.95 572.78 L414.42 605.47 L408.29 636.29 L402.54 665.44 L397.11 693.1M472.24 424.35 L464.91 460.81 L456.95 500.77 L449.58 537.97 L442.75 572.78 L436.37 605.47 L430.4 636.29 L424.79 665.44 L419.49 693.1M512.04 424.35 L505.03 460.81 L497.42 500.77 L490.39 537.97 L483.87 572.78 L477.79 605.47 L472.11 636.29 L466.77 665.44 L461.73 693.1M541.46 424.35 L534.7 460.81 L527.35 500.77 L520.57 537.97 L514.29 572.78 L508.44 605.47 L502.97 636.29 L497.84 665.44 L493 693.1M565 424.35 L558.43 460.81 L551.3 500.77 L544.73 537.97 L538.64 572.78 L532.98 605.47 L527.68 636.29 L522.71 665.44 L518.04 693.1M584.72 424.35 L578.31 460.81 L571.37 500.77 L564.97 537.97 L559.05 572.78 L553.54 605.47 L548.39 636.29 L543.57 665.44 L539.03 693.1M601.74 424.35 L595.48 460.81 L588.69 500.77 L582.45 537.97 L576.67 572.78 L571.3 605.47 L566.28 636.29 L561.58 665.44 L557.16 693.1M616.75 424.35 L610.62 460.81 L603.98 500.77 L597.87 537.97 L592.22 572.78 L586.96 605.47 L582.06 636.29 L577.48 665.44 L573.16 693.1" stroke="#ff1493" stroke-width="1.1" fill="none" stroke-dasharray="2 5.8"/></g>
<path d="M59 127.5H590M59 199.5H590M59 262.5H590M59 319.5H590M59 371.5H590M59 418.5H590M59 461.5H590M59 501.5H590M59 538.5H590M59 573.5H590M59 605.5H590M59 636.5H590M59 665.5H590 M59 44.5H63" stroke="#000" stroke-width="1" fill="none"/>
<text x="279.77" y="413.29" class="mr" textLength="6.35" lengthAdjust="spacingAndGlyphs">1</text>
<text x="333.23" y="413.29" class="mr" textLength="8.1" lengthAdjust="spacingAndGlyphs">2</text>
<text x="366.46" y="413.29" class="mr" textLength="8.89" lengthAdjust="spacingAndGlyphs">3</text>
<text x="392.75" y="413.29" class="mr" textLength="8.14" lengthAdjust="spacingAndGlyphs">4</text>
<text x="427.04" y="413.29" class="mr" textLength="7.9" lengthAdjust="spacingAndGlyphs">6</text>
<text x="452.98" y="413.29" class="mr" textLength="9.05" lengthAdjust="spacingAndGlyphs">8</text>
<text x="476" y="413.29" class="mr" textLength="15" lengthAdjust="spacingAndGlyphs">10</text>
<text x="515.39" y="413.29" class="mr" textLength="16.44" lengthAdjust="spacingAndGlyphs">15</text>
<text x="544" y="413.29" class="mr" textLength="17" lengthAdjust="spacingAndGlyphs">20</text>
<text x="568" y="413.29" class="mr" textLength="17" lengthAdjust="spacingAndGlyphs">25</text>
<g clip-path="url(#cp)" fill="none" stroke-linejoin="round"><polyline points="308.4,44 329.1,127 336.7,154.7 349.3,199 363,235 370.5,255 373,262 386.3,319 393,371 401,418 407.5,461 412.2,501 417,520 424.5,538 430.6,560 435.5,573 451.3,605 463,636 476.7,665 483.1,679.2 472.5,689.5" stroke="#ff2020" stroke-width="2.2"/><polyline points="293.7,51.3 321.8,127 346.2,199 365.7,262 381.8,319 394.1,371 401.5,418 411.2,461 415.7,501 422.4,538 425.1,560 427,573 431.3,605 434,632 437,636 456.6,665 465.1,682.2" stroke="#a0a0a0" stroke-width="2.2"/><polyline points="280.2,44 233.6,127 251.6,199 250.9,262 287,283 338,319 383,371 397,418 405.4,461 409.7,501 412.8,538 413.6,560 413.7,573 414.3,605 415.8,636 412.2,665 412.6,672 415.4,680.7 422.8,689.5" stroke="#0020ff" stroke-width="2.2"/></g>
<rect x="386" y="44" width="203" height="99" fill="#fff"/>
<rect x="386.5" y="44.5" width="203" height="94" fill="none" stroke="#000" stroke-width="1"/>
<rect x="390" y="52" width="20" height="2" fill="#ff2020"/>
<rect x="390" y="65" width="20" height="2" fill="#0020ff"/>
<rect x="390" y="78" width="20" height="2" fill="#a0a0a0"/>
<rect x="390" y="92" width="20" height="1" fill="#f57a18"/>
<rect x="390" y="105" width="20" height="1" fill="#11dd11"/>
<rect x="390" y="118" width="20" height="1" fill="#0a9bff"/>
<rect x="390" y="131" width="2" height="1" fill="#ff1493"/>
<rect x="399" y="131" width="2" height="1" fill="#ff1493"/>
<rect x="407" y="131" width="2" height="1" fill="#ff1493"/>
<path d="M62 43H590 V691 H62 Z" stroke="none" fill="none"/>
<rect x="62" y="43" width="2" height="648" fill="#000"/>
<rect x="62" y="43" width="529" height="2" fill="#000"/>
<rect x="589" y="43" width="2" height="648" fill="#000"/>
<rect x="62" y="689" width="529" height="2" fill="#000"/>
<rect x="591" y="152" width="6" height="1" fill="#000"/>
<rect x="591" y="227" width="6" height="1" fill="#000"/>
<rect x="591" y="299" width="6" height="1" fill="#000"/>
<rect x="591" y="369" width="6" height="1" fill="#000"/>
<rect x="591" y="438" width="6" height="1" fill="#000"/>
<rect x="591" y="505" width="6" height="1" fill="#000"/>
<rect x="591" y="571" width="6" height="1" fill="#000"/>
<rect x="591" y="633" width="6" height="1" fill="#000"/><rect x="591" y="635" width="10" height="1" fill="#000"/>
<text transform="translate(629.6,508.8) rotate(-90)" x="0" y="0" class="ax" style="font-size:17.5px" textLength="169.8" lengthAdjust="spacingAndGlyphs">Mixing Ratio (g/kg)</text>
<rect x="681" y="44" width="1" height="645" fill="#000"/>
<path d="M681.5 44.5L648.5 50M655.5 49.5L654.5 36.5M660.5 48.5L660 42" stroke="#ff3030" stroke-width="1" fill="none" stroke-linecap="square"/>
<polygon points="647,36.5 648,50.8 654,50.2" fill="#ff3030"/>
<circle cx="681.5" cy="44.5" r="3" fill="#ff3030" shape-rendering="geometricPrecision"/>
<path d="M681.5 199.5L650.5 205.5M650.5 205.5L647.5 193.5M655.5 204.5L652.5 192M659.5 203.5L656.5 191M664.5 202.5L661.5 190.5M668.5 202L667.5 196.5" stroke="#9a00d6" stroke-width="1" fill="none" stroke-linecap="square"/>
<circle cx="681.5" cy="199.5" r="3" fill="#9a00d6" shape-rendering="geometricPrecision"/>
<path d="M681.5 319.5L653.6 332.5M653.6 332.5L647.3 321M657.4 330.2L651.5 319M661 328.5L655.5 317" stroke="#0a96ff" stroke-width="1" fill="none" stroke-linecap="square"/>
<circle cx="681.5" cy="319.5" r="3" fill="#0a96ff" shape-rendering="geometricPrecision"/>
<path d="M681.5 501.5L660.5 523.5M660.5 523.5L650.2 514.3M663.3 520.2L653.3 511.2" stroke="#10d08a" stroke-width="1" fill="none" stroke-linecap="square"/>
<circle cx="681.5" cy="501.5" r="3" fill="#10d08a" shape-rendering="geometricPrecision"/>
<path d="M681.5 605.5L651.6 614.1M651.6 614.1L647.2 602" stroke="#8ce228" stroke-width="1" fill="none" stroke-linecap="square"/>
<circle cx="681.5" cy="605.5" r="3" fill="#8ce228" shape-rendering="geometricPrecision"/>
<path d="M681.5 651.5L650.3 650.3M650.3 650.3L650.3 637.2" stroke="#8ce228" stroke-width="1" fill="none" stroke-linecap="square"/>
<circle cx="681.5" cy="651.5" r="3" fill="#8ce228" shape-rendering="geometricPrecision"/>
<path d="M681.5 636.5L650.3 640.3M654.5 639.5L654.5 633.2" stroke="#e6d22d" stroke-width="1" fill="none" stroke-linecap="square"/>
<circle cx="681.5" cy="636.5" r="3" fill="#e6d22d" shape-rendering="geometricPrecision"/>
<path d="M681.5 690.5L650.2 684.4M655.5 685L655.5 679.2" stroke="#e6d22d" stroke-width="1" fill="none" stroke-linecap="square"/>
<circle cx="681.5" cy="690.5" r="3" fill="#e6d22d" shape-rendering="geometricPrecision"/>
<g clip-path="url(#ch)" fill="none" stroke="#a8a8a8" stroke-width="1"><ellipse cx="818.5" cy="130.5" rx="30.2" ry="28.6"/><ellipse cx="818.5" cy="130.5" rx="60.4" ry="57.3"/><ellipse cx="818.5" cy="130.5" rx="90.6" ry="85.9"/></g>
<text transform="translate(797,151.6) rotate(-45)" x="0" y="4" class="hl" text-anchor="middle">25</text>
<text transform="translate(775.7,171) rotate(-45)" x="0" y="4" class="hl" text-anchor="middle">50</text>
<text transform="translate(753.7,191.7) rotate(-45)" x="0" y="4" class="hl" text-anchor="middle">75</text>
<rect x="727" y="44" width="182" height="171" fill="none" stroke="#000" stroke-width="2"/>
<path d="M728 130.5H908 M818.5 45V214 M733.5 128V133M815 49.5H822M739.5 128V133M815 55.5H822M745.5 128V133M815 61.5H822M751.5 128V133M815 67.5H822M757.5 128V133M815 72.5H822M763.5 128V133M815 78.5H822M769.5 128V133M815 84.5H822M776.5 128V133M815 90.5H822M782.5 128V133M815 95.5H822M788.5 128V133M815 101.5H822M794.5 128V133M815 107.5H822M800.5 128V133M815 113.5H822M806.5 128V133M815 118.5H822M812.5 128V133M815 124.5H822M824.5 128V133M815 136.5H822M830.5 128V133M815 141.5H822M836.5 128V133M815 147.5H822M842.5 128V133M815 153.5H822M848.5 128V133M815 159.5H822M854.5 128V133M815 164.5H822M860.5 128V133M815 170.5H822M866.5 128V133M815 176.5H822M872.5 128V133M815 182.5H822M878.5 128V133M815 187.5H822M884.5 128V133M815 193.5H822M890.5 128V133M815 199.5H822M896.5 128V133M815 205.5H822M902.5 128V133M815 210.5H822" stroke="#000" stroke-width="1" fill="none"/>
<path d="M823.4 131.3 L827 130.8 L835.7 112.4 L838 112.4 L871.2 119.2" stroke="#000" stroke-width="1.2" fill="none"/>
<circle cx="823.4" cy="131.3" r="2.6" fill="#000" shape-rendering="geometricPrecision"/>
<circle cx="871.2" cy="119.2" r="2.6" fill="#000" shape-rendering="geometricPrecision"/>
<polygon points="829,130.6 832,126 833,126 837,128.6 840.4,130.6 837.5,132.7 833.6,134.6 832.3,136 831,136 829.2,132" fill="#000"/>
<g fill="none" stroke="#000" stroke-width="1"><rect x="727.5" y="233.5" width="200" height="67"/><rect x="727.5" y="302.5" width="200" height="154"/><rect x="727.5" y="458.5" width="200" height="133"/><rect x="727.5" y="591.5" width="200" height="112"/></g>
<text x="732.2" y="386.2" class="tb th" textLength="9" lengthAdjust="spacingAndGlyphs">θ</text>
<text x="741.2" y="386.7" class="tb" style="font-size:8px;stroke-width:0.5px" textLength="5" lengthAdjust="spacingAndGlyphs">E</text>
<text x="748.7" y="386.2" class="tb" textLength="26.5" lengthAdjust="spacingAndGlyphs">(K)</text>
<text x="732.2" y="520" class="tb th" textLength="9" lengthAdjust="spacingAndGlyphs">θ</text>
<text x="741.2" y="520.5" class="tb" style="font-size:8px;stroke-width:0.5px" textLength="5" lengthAdjust="spacingAndGlyphs">E</text>
<text x="759.2" y="520" class="tb" textLength="25.3" lengthAdjust="spacingAndGlyphs">(K)</text>
<text x="29" y="20" class="ax" textLength="34" lengthAdjust="spacingAndGlyphs">hPa</text>
<text x="93" y="29.7" class="tt" textLength="81.99" lengthAdjust="spacingAndGlyphs">44°49'N</text>
<text x="188.18" y="29.7" class="tt" textLength="82.83" lengthAdjust="spacingAndGlyphs">20°17'E</text>
<text x="284.51" y="29.7" class="tt" textLength="62.77" lengthAdjust="spacingAndGlyphs">122m</text>
<text x="358.58" y="29.7" class="tt" textLength="36.06" lengthAdjust="spacingAndGlyphs">ASL</text>
<text x="651.19" y="28.96" class="tt" textLength="120.41" lengthAdjust="spacingAndGlyphs">31.05.2024</text>
<text x="787.6" y="28.96" class="tt" textLength="68.02" lengthAdjust="spacingAndGlyphs">18GMT</text>
<text x="868.35" y="28.9" class="tt" textLength="71.92" lengthAdjust="spacingAndGlyphs">(Base:</text>
<text x="950.37" y="28.9" class="tt" textLength="34.69" lengthAdjust="spacingAndGlyphs">00)</text>
<text x="594.7" y="19.6" class="lg" textLength="26.32" lengthAdjust="spacingAndGlyphs">km</text>
<text x="596" y="40.11" class="lg" textLength="29.64" lengthAdjust="spacingAndGlyphs">ASL</text>
<text x="27.57" y="50.7" class="ax" textLength="27.26" lengthAdjust="spacingAndGlyphs">300</text>
<text x="27.57" y="133.7" class="ax" textLength="27.26" lengthAdjust="spacingAndGlyphs">350</text>
<text x="27.6" y="205.7" class="ax" textLength="27.22" lengthAdjust="spacingAndGlyphs">400</text>
<text x="27.6" y="268.7" class="ax" textLength="27.22" lengthAdjust="spacingAndGlyphs">450</text>
<text x="26.56" y="325.7" class="ax" textLength="28.27" lengthAdjust="spacingAndGlyphs">500</text>
<text x="26.56" y="377.7" class="ax" textLength="28.27" lengthAdjust="spacingAndGlyphs">550</text>
<text x="26.56" y="424.7" class="ax" textLength="28.27" lengthAdjust="spacingAndGlyphs">600</text>
<text x="26.56" y="467.7" class="ax" textLength="28.27" lengthAdjust="spacingAndGlyphs">650</text>
<text x="27.57" y="507.7" class="ax" textLength="27.26" lengthAdjust="spacingAndGlyphs">700</text>
<text x="27.57" y="544.7" class="ax" textLength="27.26" lengthAdjust="spacingAndGlyphs">750</text>
<text x="27.57" y="579.7" class="ax" textLength="27.26" lengthAdjust="spacingAndGlyphs">800</text>
<text x="27.57" y="611.7" class="ax" textLength="27.26" lengthAdjust="spacingAndGlyphs">850</text>
<text x="26.56" y="642.7" class="ax" textLength="28.27" lengthAdjust="spacingAndGlyphs">900</text>
<text x="26.56" y="671.7" class="ax" textLength="28.27" lengthAdjust="spacingAndGlyphs">950</text>
<text x="41.15" y="710.61" class="ax" textLength="37.86" lengthAdjust="spacingAndGlyphs">−40</text>
<text x="107.58" y="710.61" class="ax" textLength="36.87" lengthAdjust="spacingAndGlyphs">−30</text>
<text x="173.17" y="710.61" class="ax" textLength="37.69" lengthAdjust="spacingAndGlyphs">−20</text>
<text x="239.15" y="710.61" class="ax" textLength="35.9" lengthAdjust="spacingAndGlyphs">−10</text>
<text x="318.52" y="710.61" class="ax" textLength="10.22" lengthAdjust="spacingAndGlyphs">0</text>
<text x="379.54" y="710.61" class="ax" textLength="21.47" lengthAdjust="spacingAndGlyphs">10</text>
<text x="446.17" y="710.61" class="ax" textLength="20.6" lengthAdjust="spacingAndGlyphs">20</text>
<text x="511.54" y="710.61" class="ax" textLength="20.82" lengthAdjust="spacingAndGlyphs">30</text>
<text x="183.39" y="728.4" class="xl" textLength="319.24" lengthAdjust="spacingAndGlyphs">Dewpoint / Temperature (°C)</text>
<text x="599.29" y="159.72" class="ax" textLength="12.4" lengthAdjust="spacingAndGlyphs">8</text>
<text x="599.34" y="233.7" class="ax" textLength="12.4" lengthAdjust="spacingAndGlyphs">7</text>
<text x="599.32" y="306.55" class="ax" textLength="12.4" lengthAdjust="spacingAndGlyphs">6</text>
<text x="599.27" y="376.55" class="ax" textLength="12.4" lengthAdjust="spacingAndGlyphs">5</text>
<text x="600.34" y="445.55" class="ax" textLength="11.36" lengthAdjust="spacingAndGlyphs">4</text>
<text x="599.4" y="511.36" class="ax" textLength="12.27" lengthAdjust="spacingAndGlyphs">3</text>
<text x="599.23" y="578.55" class="ax" textLength="12.52" lengthAdjust="spacingAndGlyphs">2</text>
<text x="602.04" y="640.9" class="ax" textLength="36.02" lengthAdjust="spacingAndGlyphs">1LCL</text>
<text x="419.57" y="58.68" class="lg" textLength="104.63" lengthAdjust="spacingAndGlyphs">Temperature</text>
<text x="417.59" y="72.04" class="lg" textLength="75.82" lengthAdjust="spacingAndGlyphs">Dewpoint</text>
<text x="417.6" y="84.7" class="lg" textLength="146.2" lengthAdjust="spacingAndGlyphs">Parcel Trajectory</text>
<text x="417.6" y="97.36" class="lg" textLength="100.42" lengthAdjust="spacingAndGlyphs">Dry Adiabat</text>
<text x="418.6" y="110.53" class="lg" textLength="101.61" lengthAdjust="spacingAndGlyphs">Wet Adiabat</text>
<text x="417.59" y="124.04" class="lg" textLength="73.42" lengthAdjust="spacingAndGlyphs">Isotherm</text>
<text x="416.57" y="137.55" class="lg" textLength="106.45" lengthAdjust="spacingAndGlyphs">Mixing Ratio</text>
<text x="731.6" y="56.38" class="kt" textLength="13.4" lengthAdjust="spacingAndGlyphs">kt</text>
<text x="731.32" y="253.69" class="tb" textLength="10.68" lengthAdjust="spacingAndGlyphs">K</text>
<text x="873.18" y="253.69" class="tb" textLength="22.61" lengthAdjust="spacingAndGlyphs">33</text>
<text x="732.57" y="274.5" class="tb" textLength="112.03" lengthAdjust="spacingAndGlyphs">Totals Totals</text>
<text x="873.17" y="274.5" class="tb" textLength="22.61" lengthAdjust="spacingAndGlyphs">46</text>
<text x="731.35" y="295.9" class="tb" textLength="80.07" lengthAdjust="spacingAndGlyphs">PW (cm)</text>
<text x="873.19" y="296.52" class="tb" textLength="39.61" lengthAdjust="spacingAndGlyphs">3.18</text>
<text x="732.79" y="343.2" class="tb" textLength="91.81" lengthAdjust="spacingAndGlyphs">Temp (°C)</text>
<text x="873" y="344.03" class="tb" textLength="38.81" lengthAdjust="spacingAndGlyphs">21.7</text>
<text x="730.77" y="364.7" class="tb" textLength="92.44" lengthAdjust="spacingAndGlyphs">Dewp (°C)</text>
<text x="873" y="365.18" class="tb" textLength="40.22" lengthAdjust="spacingAndGlyphs">14.4</text>
<text x="873" y="387.03" class="tb" textLength="33" lengthAdjust="spacingAndGlyphs">325</text>
<text x="730.79" y="408.18" class="tb" textLength="106.23" lengthAdjust="spacingAndGlyphs">Lifted Index</text>
<text x="873.06" y="408.18" class="tb" textLength="7.9" lengthAdjust="spacingAndGlyphs">1</text>
<text x="731.78" y="429.2" class="tb" textLength="80.64" lengthAdjust="spacingAndGlyphs">CAPE (J)</text>
<text x="873.01" y="430.03" class="tb" textLength="22.43" lengthAdjust="spacingAndGlyphs">24</text>
<text x="731.77" y="450.6" class="tb" textLength="64.26" lengthAdjust="spacingAndGlyphs">CIN (J)</text>
<text x="873.01" y="451.01" class="tb" textLength="22.43" lengthAdjust="spacingAndGlyphs">95</text>
<text x="731.38" y="498.5" class="tb" textLength="131.44" lengthAdjust="spacingAndGlyphs">Pressure (mb)</text>
<text x="873.17" y="499.54" class="tb" textLength="33.69" lengthAdjust="spacingAndGlyphs">925</text>
<text x="873.17" y="520.69" class="tb" textLength="33.69" lengthAdjust="spacingAndGlyphs">325</text>
<text x="731.38" y="542.54" class="tb" textLength="105.43" lengthAdjust="spacingAndGlyphs">Lifted Index</text>
<text x="873.12" y="542.54" class="tb" textLength="7.88" lengthAdjust="spacingAndGlyphs">1</text>
<text x="732.38" y="563" class="tb" textLength="79.44" lengthAdjust="spacingAndGlyphs">CAPE (J)</text>
<text x="874.18" y="563.69" class="tb" textLength="20.6" lengthAdjust="spacingAndGlyphs">29</text>
<text x="732.39" y="584.5" class="tb" textLength="63.84" lengthAdjust="spacingAndGlyphs">CIN (J)</text>
<text x="873.18" y="585.54" class="tb" textLength="21.63" lengthAdjust="spacingAndGlyphs">19</text>
<text x="731.98" y="632.5" class="tb" textLength="22.69" lengthAdjust="spacingAndGlyphs">EH</text>
<text x="873.39" y="632.5" class="tb" textLength="37.22" lengthAdjust="spacingAndGlyphs">−32</text>
<text x="731.98" y="654.35" class="tb" textLength="46.47" lengthAdjust="spacingAndGlyphs">SREH</text>
<text x="874.35" y="654.35" class="tb" textLength="20.68" lengthAdjust="spacingAndGlyphs">46</text>
<text x="732.02" y="675.86" class="tb" textLength="57.4" lengthAdjust="spacingAndGlyphs">StmDir</text>
<text x="873.38" y="675.86" class="tb" textLength="43.24" lengthAdjust="spacingAndGlyphs">273°</text>
<text x="732" y="696.5" class="tb" textLength="112.02" lengthAdjust="spacingAndGlyphs">StmSpd (kt)</text>
<text x="873.37" y="697.54" class="tb" textLength="22.69" lengthAdjust="spacingAndGlyphs">17</text>
<text x="786.59" y="322.75" class="tb" textLength="66.82" lengthAdjust="spacingAndGlyphs">Surface</text>
<text x="751.17" y="478.03" class="tb" textLength="128.45" lengthAdjust="spacingAndGlyphs">Most Unstable</text>
<text x="769.98" y="611.18" class="tb" textLength="95.64" lengthAdjust="spacingAndGlyphs">Hodograph</text>
<text x="713.17" y="729.54" class="cr" textLength="20.44" lengthAdjust="spacingAndGlyphs">©</text>
<text x="737.99" y="728.49" class="cr" textLength="213.05" lengthAdjust="spacingAndGlyphs">weatheronline.co.uk</text>
</svg>
</body></html>
